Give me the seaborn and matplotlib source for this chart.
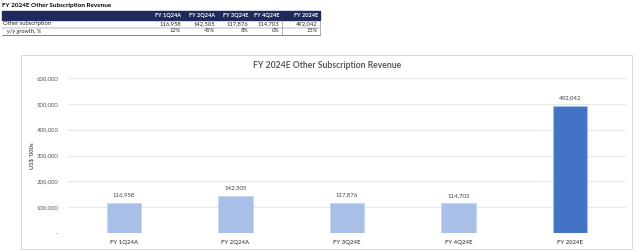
import matplotlib
matplotlib.use("Agg")
import matplotlib.pyplot as plt
import matplotlib.patches as mpatches
import seaborn as sns
import pandas as pd

periods = ["FY 1Q24A", "FY 2Q24A", "FY 3Q24E", "FY 4Q24E", "FY 2024E"]
revenue = [116958, 142505, 117876, 114703, 492042]
growth = ["12%", "45%", "8%", "0%", "15%"]
bar_colors = ["#A9BFE7", "#A9BFE7", "#A9BFE7", "#A9BFE7", "#4472C4"]

df = pd.DataFrame({"period": periods, "revenue": revenue})

sns.set_style("white")
plt.rcParams["font.family"] = ["Lato", "DejaVu Sans"]

W, H = 640, 252
fig = plt.figure(figsize=(W / 100, H / 100), dpi=100)


def fx(px):
    return px / W


def fy(py):
    return 1 - py / H


# ---- table at the top ----
fig.text(fx(2), fy(5), "FY 2024E Other Subscription Revenue", fontsize=4.6,
         fontweight="bold", va="center", ha="left", color="#000000")
fig.patches.append(mpatches.Rectangle((fx(2), fy(20)), fx(318), 9 / H,
                                      transform=fig.transFigure, color="#1F2A5C"))
col_right = [181, 215, 248, 279, 318]
for x, p in zip(col_right, periods):
    fig.text(fx(x), fy(15.5), p, fontsize=4.0, fontweight="bold", color="white",
             ha="right", va="center")
fig.text(fx(3), fy(24), "Other subscription", fontsize=4.2, ha="left", va="center")
fig.text(fx(7), fy(31), "y/y growth, %", fontsize=4.2, ha="left", va="center",
         style="italic")
for x, v, g in zip(col_right, revenue, growth):
    fig.text(fx(x), fy(24), f"{v:,}", fontsize=4.2, ha="right", va="center")
    fig.text(fx(x), fy(31), g, fontsize=4.2, ha="right", va="center", style="italic")
for y0 in [27.5, 35]:
    fig.add_artist(plt.Line2D([fx(2), fx(320)], [fy(y0), fy(y0)], color="#555555",
                              lw=0.5 if y0 > 30 else 0.3, transform=fig.transFigure))
for x0 in [282, 320]:
    fig.add_artist(plt.Line2D([fx(x0), fx(x0)], [fy(20), fy(35)], color="#777777",
                              lw=0.4, transform=fig.transFigure))

# ---- chart frame ----
fig.patches.append(mpatches.Rectangle((fx(21), fy(249)), fx(611), 194 / H,
                                      transform=fig.transFigure, fill=False,
                                      edgecolor="#D9D9D9", lw=0.7))
fig.text(fx(327), fy(65), "FY 2024E Other Subscription Revenue", fontsize=6.2,
         fontweight="bold", color="#595959", ha="center", va="center")

ax = fig.add_axes([fx(68), fy(233), fx(558), 155 / H])
sns.barplot(data=df, x="period", y="revenue", hue="period", palette=bar_colors,
            width=0.31, legend=False, ax=ax, saturation=1)
for i, patch in enumerate(ax.patches):
    if i < 4:
        patch.set_edgecolor("#C5D3EE")
        patch.set_linewidth(0.5)
    else:
        patch.set_edgecolor("#9DC3E6")
        patch.set_linewidth(0.8)
for patch, v in zip(ax.patches, revenue):
    ax.annotate(f"{v:,}", (patch.get_x() + patch.get_width() / 2, v),
                xytext=(0, 4), textcoords="offset points", ha="center", va="bottom",
                fontsize=4.3, color="#404040")

ax.set_ylim(0, 600000)
ax.set_yticks(range(0, 600001, 100000))
ax.set_yticklabels(["-" if t == 0 else f"{t:,}" for t in range(0, 600001, 100000)])
ax.yaxis.grid(True, color="#E8E8E8", lw=0.8)
ax.set_axisbelow(True)
for s in ax.spines.values():
    s.set_visible(False)
ax.tick_params(axis="both", length=0, labelsize=4.3, colors="#595959", pad=7)
for lab in ax.get_xticklabels():
    lab.set_fontweight("bold")
ax.tick_params(axis="x", pad=5)
ax.set_xlabel("")
ax.set_ylabel("US$ '000s", fontsize=4.3, color="#595959", fontweight="bold",
              labelpad=1)

fig.savefig("out.png", dpi=100)
